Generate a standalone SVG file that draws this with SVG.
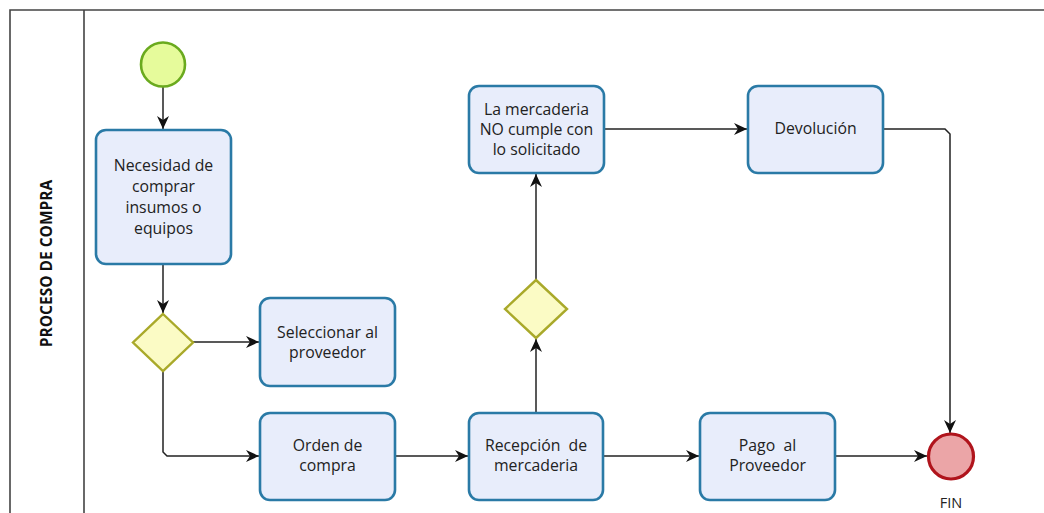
<svg xmlns="http://www.w3.org/2000/svg" width="1044" height="513" viewBox="0 0 1044 513">
<style>
.pool{fill:none;stroke:#444;stroke-width:1.6}
.task{fill:#e8edfb;stroke:#2a7aa6;stroke-width:2.6}
.gw{fill:#fbfbc5;stroke:#a9a92a;stroke-width:2.4}
.t{font-family:"Open Sans","DejaVu Sans",sans-serif;font-size:15.8px;fill:#222;text-anchor:middle}
.title{font-family:"Open Sans","DejaVu Sans",sans-serif;font-size:15.5px;font-weight:bold;fill:#111;text-anchor:middle}
.c{fill:none;stroke:#222;stroke-width:1.5}
.ca{fill:none;stroke:#222;stroke-width:1.5;marker-end:url(#arr)}
</style>
<defs>
<marker id="arr" markerUnits="userSpaceOnUse" markerWidth="14" markerHeight="14" refX="13" refY="7" orient="auto">
<path d="M0,1 L13,7 L0,13 L4,7 z" fill="#111"/>
</marker>
</defs>
<rect width="1044" height="513" fill="#fff"/>
<g id="pool">
<path class="pool" d="M10,520 L10,10 L1050,10 M84,10 L84,520"/>
<text class="title" transform="translate(52,263.5) rotate(-90)">PROCESO DE COMPRA</text>
</g>
<g id="connectors">
<path class="ca" d="M163,87 L163,129"/>
<path class="ca" d="M163,265 L163,313"/>
<path class="ca" d="M193,342 L259,342"/>
<path class="ca" d="M163,371 L163,452 L167,456 L259,456"/>
<path class="ca" d="M395,456 L468,456"/>
<path class="ca" d="M536,413 L536,339"/>
<path class="ca" d="M536,280 L536,174"/>
<path class="ca" d="M604,129 L747,129"/>
<path class="ca" d="M883,129 L945,129 L950,134 L950,433"/>
<path class="ca" d="M603,456 L699,456"/>
<path class="ca" d="M835,456 L927,456"/>
</g>
<g id="start">
<circle cx="163" cy="64.5" r="22" fill="#e6fb9b" stroke="#6aaa1e" stroke-width="2.6"/>
</g>
<g id="task-necesidad">
<rect class="task" x="96" y="130" width="135" height="134" rx="10"/>
<text class="t" x="163.5" y="171">Necesidad de</text>
<text class="t" x="163.5" y="192">comprar</text>
<text class="t" x="163.5" y="213">insumos o</text>
<text class="t" x="163.5" y="234">equipos</text>
</g>
<g id="gateway1">
<path class="gw" d="M163,314 L193,342.5 L163,371 L133,342.5 z"/>
</g>
<g id="task-seleccionar">
<rect class="task" x="260" y="298" width="135" height="88" rx="10"/>
<text class="t" x="327.5" y="338">Seleccionar al</text>
<text class="t" x="327.5" y="358">proveedor</text>
</g>
<g id="task-orden">
<rect class="task" x="260" y="413" width="135" height="87" rx="10"/>
<text class="t" x="327.5" y="451">Orden de</text>
<text class="t" x="327.5" y="471">compra</text>
</g>
<g id="task-recepcion">
<rect class="task" x="469" y="413" width="134" height="87" rx="10"/>
<text class="t" x="536" y="451" xml:space="preserve">Recepción  de</text>
<text class="t" x="536" y="471">mercaderia</text>
</g>
<g id="gateway2">
<path class="gw" d="M536,280 L567,309 L536,338 L505,309 z"/>
</g>
<g id="task-nocumple">
<rect class="task" x="469" y="86" width="135" height="87" rx="10"/>
<text class="t" x="536.5" y="115">La mercaderia</text>
<text class="t" x="536.5" y="135">NO cumple con</text>
<text class="t" x="536.5" y="155">lo solicitado</text>
</g>
<g id="task-devolucion">
<rect class="task" x="748" y="86" width="135" height="87" rx="10"/>
<text class="t" x="815.5" y="134">Devolución</text>
</g>
<g id="task-pago">
<rect class="task" x="700" y="413" width="135" height="87" rx="10"/>
<text class="t" x="767.5" y="451" xml:space="preserve">Pago  al</text>
<text class="t" x="767.5" y="471">Proveedor</text>
</g>
<g id="end">
<circle cx="951" cy="456.5" r="22.5" fill="#eba5a7" stroke="#b0141c" stroke-width="3.2"/>
<text class="t" x="951" y="508" style="font-size:14.5px">FIN</text>
</g>
</svg>
